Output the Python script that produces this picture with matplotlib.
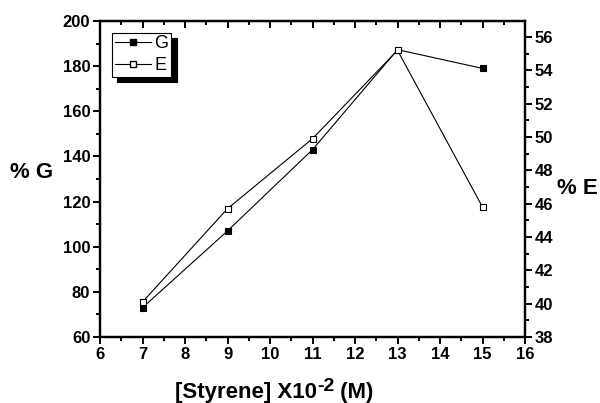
import matplotlib.pyplot as plt
from matplotlib.lines import Line2D
from matplotlib.ticker import MultipleLocator

plt.rcParams["font.family"] = ["Liberation Sans", "DejaVu Sans"]
plt.rcParams["font.weight"] = "bold"
plt.rcParams["axes.unicode_minus"] = False

# data
styrene = [7, 9, 11, 13, 15]
grafting_pct = [73, 107, 143, 187.3, 179]
efficiency_pct = [40.1, 45.7, 49.9, 55.2, 45.8]

fig = plt.figure(figsize=(6, 4.03), dpi=100)
ax = fig.add_axes([0.1667, 0.1638, 0.7083, 0.7841])
ax2 = ax.twinx()

ax.plot(styrene, grafting_pct, color="black", lw=0.8, marker="s", ms=5,
        mfc="black", mec="black", mew=0.8, zorder=3)
ax2.plot(styrene, efficiency_pct, color="black", lw=0.8, marker="s", ms=5,
         mfc="white", mec="black", mew=0.8, zorder=3)

ax.set_xlim(6, 16)
ax.set_ylim(60, 200)
ax2.set_ylim(38, 56.96)

ax.xaxis.set_major_locator(MultipleLocator(1))
ax.xaxis.set_minor_locator(MultipleLocator(0.5))
ax.yaxis.set_major_locator(MultipleLocator(20))
ax.yaxis.set_minor_locator(MultipleLocator(10))
ax2.yaxis.set_major_locator(MultipleLocator(2))
ax2.yaxis.set_minor_locator(MultipleLocator(1))

for a in (ax, ax2):
    for s in a.spines.values():
        s.set_linewidth(1.6)

ax.tick_params(axis="x", which="both", direction="out", top=False, width=1.4)
ax.tick_params(axis="x", which="major", length=5, labelsize=12, pad=2)
ax.tick_params(axis="x", which="minor", length=3)
ax.tick_params(axis="y", which="both", direction="out", width=1.4)
ax.tick_params(axis="y", which="major", length=5, labelsize=12, pad=2)
ax.tick_params(axis="y", which="minor", length=3)
ax2.tick_params(axis="y", which="both", direction="out", width=1.4)
ax2.tick_params(axis="y", which="major", length=5, labelsize=12, pad=2)
ax2.tick_params(axis="y", which="minor", length=3)

# top ticks point inward in the original
sec = ax.secondary_xaxis("top")
sec.xaxis.set_major_locator(MultipleLocator(1))
sec.xaxis.set_minor_locator(MultipleLocator(0.5))
sec.tick_params(axis="x", which="both", direction="in", width=1.4, labeltop=False)
sec.tick_params(axis="x", which="major", length=5)
sec.tick_params(axis="x", which="minor", length=3)

# x label built from pieces so the superscript stays big like the original
renderer = fig.canvas.get_renderer()
x_px, base_px = 175, 403 - 398
pieces = [("[Styrene] X10", 16, 0), ("-2", 14, 7), (" (M)", 16, 0)]
for txt, size, rise in pieces:
    t = fig.text(x_px / 600, (base_px + rise) / 403, txt, fontsize=size,
                 fontweight="bold", ha="left", va="baseline")
    x_px += t.get_window_extent(renderer).width

fig.text(0.053, 0.573, "% G", fontsize=16, fontweight="bold", ha="center", va="center")
fig.text(0.963, 0.533, "% E", fontsize=16, fontweight="bold", ha="center", va="center")

handles = [
    Line2D([], [], color="black", lw=0.8, marker="s", ms=5, mfc="black", mec="black"),
    Line2D([], [], color="black", lw=0.8, marker="s", ms=5, mfc="white", mec="black"),
]
leg = ax2.legend(handles, ["G", "E"], loc="upper left", bbox_to_anchor=(0.028, 0.963),
                 prop={"size": 13, "weight": "normal"}, frameon=True, fancybox=False,
                 borderpad=0.15, handlelength=2.0, handletextpad=0.2, labelspacing=0.25,
                 borderaxespad=0, shadow={"color": "black", "alpha": 1, "ox": 4, "oy": -4})
leg.get_frame().set_edgecolor("black")
leg.get_frame().set_linewidth(0.8)

fig.savefig("out.png", dpi=100)
